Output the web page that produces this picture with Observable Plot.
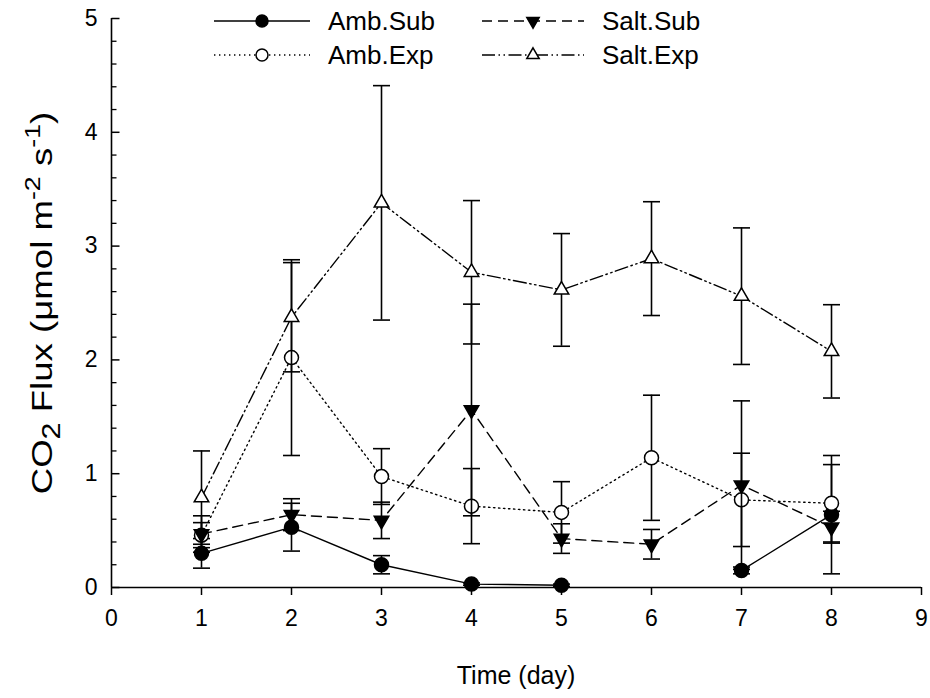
<!DOCTYPE html>
<html>
<head>
<meta charset="utf-8">
<script src="https://cdn.jsdelivr.net/npm/d3@7"></script>
<script src="https://cdn.jsdelivr.net/npm/@observablehq/plot@0.6"></script>
<style>
  body { margin: 0; background: #fff; }
  #chart { width: 930px; height: 698px; }
  #chart svg { font-family: "Liberation Sans", Arial, sans-serif; }
</style>
</head>
<body>
<div id="chart"></div>
<script>
// CO2 flux by day for four treatments (mean ± error)
const days = [1, 2, 3, 4, 5, 6, 7, 8];
const seriesNames = ["Amb.Sub", "Amb.Exp", "Salt.Sub", "Salt.Exp"];

const ambSubMean  = [0.30, 0.53, 0.20, 0.03, 0.02, null, 0.15, 0.64];
const ambSubErr   = [0.13, 0.21, 0.08, 0.01, 0.01, null, 0.03, 0.52];
const ambExpMean  = [0.46, 2.02, 0.975, 0.715, 0.66, 1.14, 0.77, 0.74];
const ambExpErr   = [0.11, 0.86, 0.245, 0.33, 0.27, 0.55, 0.41, 0.34];
const saltSubMean = [0.47, 0.64, 0.59, 1.56, 0.43, 0.38, 0.90, 0.53];
const saltSubErr  = [0.16, 0.14, 0.16, 0.93, 0.13, 0.13, 0.74, 0.14];
const saltExpMean = [0.79, 2.375, 3.38, 2.77, 2.615, 2.89, 2.56, 2.075];
const saltExpErr  = [0.41, 0.48, 1.03, 0.63, 0.495, 0.50, 0.60, 0.41];

const xTicks = [0, 1, 2, 3, 4, 5, 6, 7, 8, 9];
const yTicks = [0, 1, 2, 3, 4, 5];
const yMinorTicks = d3.range(0, 5.001, 0.2).map(v => +v.toFixed(1));

// per-series drawing style
const styles = {
  "Amb.Sub":  {dash: null,                       symbol: "circle",   fill: "black", r: 7,   rotate: 0},
  "Amb.Exp":  {dash: "1.4,3.6",                  symbol: "circle",   fill: "white", r: 7,   rotate: 0},
  "Salt.Sub": {dash: "10,6",                     symbol: "triangle", fill: "black", r: 5.4, rotate: 180},
  "Salt.Exp": {dash: "13,3.5,1.5,3.5,1.5,3.5",   symbol: "triangle", fill: "white", r: 5.4, rotate: 0}
};

const means = [ambSubMean, ambExpMean, saltSubMean, saltExpMean];
const errs = [ambSubErr, ambExpErr, saltSubErr, saltExpErr];
const rows = seriesNames.map((name, s) => days.map((day, i) => ({
  series: name, day, mean: means[s][i], err: errs[s][i]
})));

// small custom symbols: error-bar caps and inward axis ticks
const capSymbol = {draw(ctx) { ctx.moveTo(-8.5, 0); ctx.lineTo(8.5, 0); }};
const majorTick = {draw(ctx) { ctx.moveTo(0, 0); ctx.lineTo(8, 0); }};
const minorTick = {draw(ctx) { ctx.moveTo(0, 0); ctx.lineTo(5, 0); }};

const seriesMarks = rows.flatMap((data) => {
  const st = styles[data[0].series];
  const valid = data.filter(d => d.mean != null);
  return [
    Plot.ruleX(valid, {x: "day", y1: d => d.mean - d.err, y2: d => d.mean + d.err, stroke: "black", strokeWidth: 1.6}),
    Plot.dot(valid, {x: "day", y: d => d.mean - d.err, symbol: capSymbol, stroke: "black", strokeWidth: 1.6, r: 3}),
    Plot.dot(valid, {x: "day", y: d => d.mean + d.err, symbol: capSymbol, stroke: "black", strokeWidth: 1.6, r: 3}),
    Plot.line(data, {x: "day", y: "mean", stroke: "black", strokeWidth: 1.4, strokeDasharray: st.dash}),
    Plot.dot(valid, {x: "day", y: "mean", symbol: st.symbol, r: st.r, rotate: st.rotate,
                     fill: st.fill, stroke: "black", strokeWidth: 1.5})
  ];
});

const chart = Plot.plot({
  width: 930,
  height: 698,
  marginLeft: 111,
  marginRight: 9,
  marginTop: 18,
  marginBottom: 111,
  style: {fontFamily: "Liberation Sans, Arial, sans-serif", color: "black", background: "white"},
  x: {domain: [0, 9]},
  y: {domain: [0, 5]},
  marks: [
    Plot.axisX({ticks: xTicks, tickSize: 8, tickPadding: 14, tickFormat: d => d, label: null, strokeWidth: 1.5}),
    Plot.axisY({ticks: yTicks, tickSize: 0, tickPadding: 14, tickFormat: d => d, label: null}),
    Plot.dot(yMinorTicks.filter(v => !yTicks.includes(v)), {x: 0, y: d => d, symbol: minorTick, stroke: "black", strokeWidth: 1.3, r: 3}),
    Plot.dot(yTicks, {x: 0, y: d => d, symbol: majorTick, stroke: "black", strokeWidth: 1.5, r: 3}),
    Plot.ruleY([0], {stroke: "black", strokeWidth: 1.6}),
    Plot.ruleX([0], {stroke: "black", strokeWidth: 1.6}),
    ...seriesMarks
  ]
});

document.getElementById("chart").appendChild(chart);

const svg = d3.select(chart);

// enlarge the tick labels drawn by the axes
svg.selectAll("text").style("font-size", "23px");

// axis titles
svg.append("text")
  .attr("x", 516).attr("y", 684)
  .attr("text-anchor", "middle")
  .style("font-size", "25px")
  .text("Time (day)");

const yTitle = svg.append("text")
  .attr("transform", "translate(52,303) rotate(-90) scale(1.22,1)")
  .attr("text-anchor", "middle")
  .style("font-size", "30px");
yTitle.append("tspan").text("CO");
yTitle.append("tspan").attr("dy", 8).style("font-size", "25px").text("2");
yTitle.append("tspan").attr("dy", -8).text(" Flux (\u03bcmol m");
yTitle.append("tspan").attr("dy", -12).style("font-size", "22px").text("-2");
yTitle.append("tspan").attr("dy", 12).text(" s");
yTitle.append("tspan").attr("dy", -12).style("font-size", "22px").text("-1");
yTitle.append("tspan").attr("dy", 12).text(")");

// legend
const legendPos = [
  {x0: 214, x1: 310, y: 21},
  {x0: 214, x1: 310, y: 55},
  {x0: 482, x1: 584, y: 21},
  {x0: 482, x1: 584, y: 55}
];
const legend = svg.append("g");
seriesNames.forEach((name, i) => {
  const st = styles[name];
  const p = legendPos[i];
  const cx = (p.x0 + p.x1) / 2;
  legend.append("line")
    .attr("x1", p.x0).attr("x2", p.x1).attr("y1", p.y).attr("y2", p.y)
    .attr("stroke", "black").attr("stroke-width", 1.4)
    .attr("stroke-dasharray", st.dash);
  const size = st.symbol === "circle" ? Math.PI * 6 * 6 : Math.PI * 4.6 * 4.6;
  legend.append("path")
    .attr("d", d3.symbol(st.symbol === "circle" ? d3.symbolCircle : d3.symbolTriangle, size)())
    .attr("transform", `translate(${cx},${p.y}) rotate(${st.rotate})`)
    .attr("fill", st.fill).attr("stroke", "black").attr("stroke-width", 1.5);
  legend.append("text")
    .attr("x", p.x1 + 18).attr("y", p.y)
    .attr("dy", "0.35em")
    .attr("text-anchor", "start")
    .style("font-size", "26px")
    .text(name);
});
</script>
</body>
</html>
